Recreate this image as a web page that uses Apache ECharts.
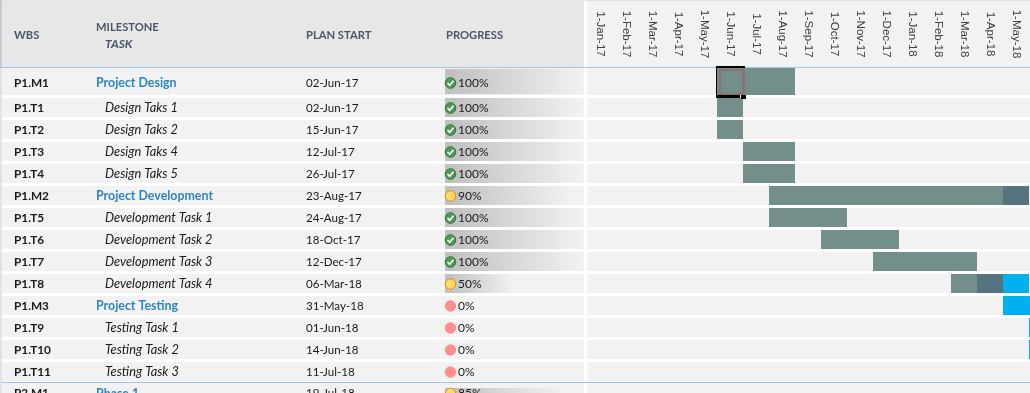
<!DOCTYPE html>
<html><head><meta charset="utf-8">
<style>html,body{margin:0;padding:0;background:#fff}#c{width:1030px;height:393px}</style>
<script src="https://cdn.jsdelivr.net/npm/echarts@6/dist/echarts.min.js"></script>
</head><body><div id="c"></div>
<script>
// ---------- data ----------
const months = ['1-Jan-17','1-Feb-17','1-Mar-17','1-Apr-17','1-May-17','1-Jun-17','1-Jul-17','1-Aug-17','1-Sep-17','1-Oct-17','1-Nov-17','1-Dec-17','1-Jan-18','1-Feb-18','1-Mar-18','1-Apr-18','1-May-18','1-Jun-18'];
const wbs = ['P1.M1','P1.T1','P1.T2','P1.T3','P1.T4','P1.M2','P1.T5','P1.T6','P1.T7','P1.T8','P1.M3','P1.T9','P1.T10','P1.T11','P2.M1'];
const names = ['Project Design','Design Taks 1','Design Taks 2','Design Taks 4','Design Taks 5','Project Development','Development Task 1','Development Task 2','Development Task 3','Development Task 4','Project Testing','Testing Task 1','Testing Task 2','Testing Task 3','Phase 1'];
const milestone = [1,0,0,0,0,1,0,0,0,0,1,0,0,0,1];
const planStart = ['02-Jun-17','02-Jun-17','15-Jun-17','12-Jul-17','26-Jul-17','23-Aug-17','24-Aug-17','18-Oct-17','12-Dec-17','06-Mar-18','31-May-18','01-Jun-18','14-Jun-18','11-Jul-18','19-Jul-18'];
const progress = [100,100,100,100,100,90,100,100,100,50,0,0,0,0,85];
// month column spans per row: [row, first column, last column]
const doneSpans = [[0,5,7],[1,5,5],[2,5,5],[3,6,7],[4,6,7],[5,7,15],[6,7,9],[7,9,11],[8,11,14],[9,14,14]];
const lateSpans = [[5,16,16],[9,15,15]];
const futureSpans = [[9,16,16],[10,16,17],[11,17,17],[12,17,17]];
const selected = [[0,5,5]];
const headers = ['WBS','MILESTONE','TASK','PLAN START','PROGRESS'];

// ---------- styles ----------
const F = 'Lato';
const C = {done:'#728F8C',late:'#56747F',future:'#00B0F0',rowBg:'#F2F2F2',head:'#E7E7E7',rule:'#9DC8E8',
  headText:'#4A5566',text:'#1A1A1A',link:'#2E86C1',axis:'#404040',sel:'#8E7070'};
const X = {wbs:14,name:96,task:105,start:306,bar:445,barW:139,icon:450.5,pct:458,left:2,tableEnd:584,ganttStart:587,right:1030};
const COL = 26, TOP1 = 68, TALL = 30, STRIDE = 22, TASKROWS = 13;

// rows are split in three grids because their heights differ
function locate(r){ return r===0?{g:0,c:0}: r<14?{g:1,c:r-1}:{g:2,c:0}; }
const rowH = r => r===0?27:(r===14?30:19);

function icon(p,cx,cy){
  if(p>=100) return [
    {type:'circle',shape:{cx,cy,r:5.3},style:{fill:'#4C9A55',stroke:'#2F7A3A',lineWidth:1}},
    {type:'polyline',shape:{points:[[cx-3,cy],[cx-.8,cy+2.3],[cx+3,cy-2.2]]},style:{fill:null,stroke:'#fff',lineWidth:1.7}}];
  if(p>0) return [{type:'circle',shape:{cx,cy,r:5.3},style:{fill:'#FFD966',stroke:'#E08A1E',lineWidth:1}}];
  return [{type:'circle',shape:{cx,cy,r:5.7},style:{fill:'#FF8F8F'}}];
}
function tableRow(params,api){
  const r = api.value(0), top = api.coord([0,params.dataIndexInside])[1]-api.size([0,1])[1]/2;
  const h = rowH(r), cy = r===0?top+15:(r===14?top+10.5:top+10), ms = milestone[r], p = progress[r], ch=[];
  const barTop = r===0?top+1:(r===14?top+5:top), barH = r===0?h-2:h-(r===14?5:0);
  ch.push({type:'rect',shape:{x:X.left,y:top,width:X.tableEnd-X.left,height:h},style:{fill:C.rowBg}});
  ch.push({type:'rect',shape:{x:X.ganttStart,y:top,width:X.right-X.ganttStart,height:h},style:{fill:C.rowBg}});
  if(p>0) ch.push({type:'rect',shape:{x:X.bar,y:barTop,width:X.barW*p/100,height:barH},style:{fill:new echarts.graphic.LinearGradient(0,0,1,0,[{offset:0,color:'#BFBFBF'},{offset:1,color:'#F2F2F2'}])}});
  const t=(x,s,st)=>ch.push({type:'text',x,y:cy,style:Object.assign({text:s,verticalAlign:'middle',align:'left',fontFamily:F,fontSize:11.6,fill:C.text},st)});
  t(X.wbs,wbs[r],{fontWeight:'bold',fontSize:11.8});
  if(ms) t(X.name,names[r],{fontWeight:'bold',fill:C.link,fontSize:12.4}); else t(X.task,names[r],{fontStyle:'italic',fontSize:12.8});
  t(X.start,planStart[r],{});
  ch.push(...icon(p,X.icon,cy));
  t(X.pct,p+'%',{fontSize:12});
  return {type:'group',children:ch};
}
function spanRenderer(kind){
  return function(params,api){
    const r=api.value(0), l=locate(r), a=api.coord([api.value(1),l.c]), b=api.coord([api.value(2),l.c]);
    const band=api.size([1,1]), x=Math.round(a[0]-band[0]/2), w=Math.round(b[0]-a[0]+band[0]), top=Math.round(a[1]-band[1]/2), h=rowH(r);
    const R=(rx,ry,rw,rh,fill)=>({type:'rect',shape:{x:rx,y:ry,width:rw,height:rh},style:{fill}});
    if(kind==='sel') return {type:'group',children:[
      R(x+w-1,top+1,3,h-1,C.sel),R(x+2,top+1,w,2,C.sel),R(x+2,top+1,2,h-1,C.sel),R(x+2,top+h-2,w,2,C.sel),
      R(x-1,top-2,w+3,2,'#000'),R(x-1,top-2,1,h+5,'#000'),R(x-1,top+h,w-2,3,'#000'),R(x+w-2,top+h,5,4,'#000')]};
    return {type:'rect',shape:{x,y:top,width:w,height:h},style:{fill:kind}};
  };
}
const byGrid=(arr,g)=>arr.filter(s=>locate(s[0]).g===g);
const series=[];
[[0,[0]],[1,wbs.map((_,i)=>i).slice(1,14)],[2,[14]]].forEach(([g,rows])=>{
  series.push({type:'custom',xAxisIndex:g,yAxisIndex:g,renderItem:tableRow,silent:true,z:1,clip:false,
    encode:{x:1,y:0},data:rows.map(r=>[r,0])});
  [[doneSpans,C.done],[lateSpans,C.late],[futureSpans,C.future],[selected,'sel']].forEach(([arr,kind],i)=>{
    const d=byGrid(arr,g); if(d.length) series.push({type:'custom',xAxisIndex:g,yAxisIndex:g,renderItem:spanRenderer(kind),silent:true,z:2+i,clip:false,data:d});
  });
});
const grids=[{left:X.ganttStart,top:TOP1,width:COL*months.length,height:TALL,outerBoundsMode:'none'},
  {left:X.ganttStart,top:TOP1+TALL,width:COL*months.length,height:STRIDE*TASKROWS,outerBoundsMode:'none'},
  {left:X.ganttStart,top:TOP1+TALL+STRIDE*TASKROWS-1,width:COL*months.length,height:TALL,outerBoundsMode:'none'}];
const xAxes=grids.map((_,i)=>({type:'category',gridIndex:i,data:months,position:'top',show:i===0,
  axisLine:{show:false},axisTick:{show:false},
  axisLabel:{rotate:90,margin:34,align:'center',verticalAlign:'middle',fontFamily:'Liberation Sans',fontSize:11.5,color:C.axis,
    interval:(idx)=>idx<months.length-1}}));
const yAxes=[[wbs[0]],wbs.slice(1,14),[wbs[14]]].map((d,i)=>({type:'category',gridIndex:i,data:d,inverse:true,show:false}));
const gtext=(x,y,s,st)=>({type:'text',x,y,z:10,style:Object.assign({text:s,verticalAlign:'middle',fontFamily:F,fontSize:11.2,fontWeight:'bold',fill:C.headText},st)});
const graphic=[
  {type:'rect',shape:{x:0,y:0,width:1030,height:393},style:{fill:'#fff'},z:-10},
  {type:'rect',shape:{x:0,y:1,width:X.tableEnd,height:66},style:{fill:C.head},z:-9},
  {type:'rect',shape:{x:X.ganttStart,y:1,width:X.right-X.ganttStart,height:66},style:{fill:C.rowBg},z:-9},
  {type:'rect',shape:{x:0,y:0,width:1030,height:1},style:{fill:'#DCE3EA'},z:-8},
  {type:'rect',shape:{x:0,y:0,width:2,height:67},style:{fill:'#C3CDD9'},z:-8},
  {type:'rect',shape:{x:0,y:67,width:2,height:326},style:{fill:'#DEE4EA'},z:-8},
  {type:'rect',shape:{x:0,y:67,width:1030,height:1},style:{fill:C.rule},z:5},
  {type:'rect',shape:{x:2,y:382,width:1028,height:1},style:{fill:C.rule},z:5},
  gtext(X.wbs,35,headers[0]),gtext(X.name,27,headers[1]),gtext(X.task,44,headers[2],{fontStyle:'italic',fontSize:12}),
  gtext(X.start,35,headers[3]),gtext(446,35,headers[4])
];
const chart=echarts.init(document.getElementById('c'),null,{renderer:'canvas'});
chart.setOption({animation:false,grid:grids,xAxis:xAxes,yAxis:yAxes,series,graphic:{elements:graphic}});
</script></body></html>
